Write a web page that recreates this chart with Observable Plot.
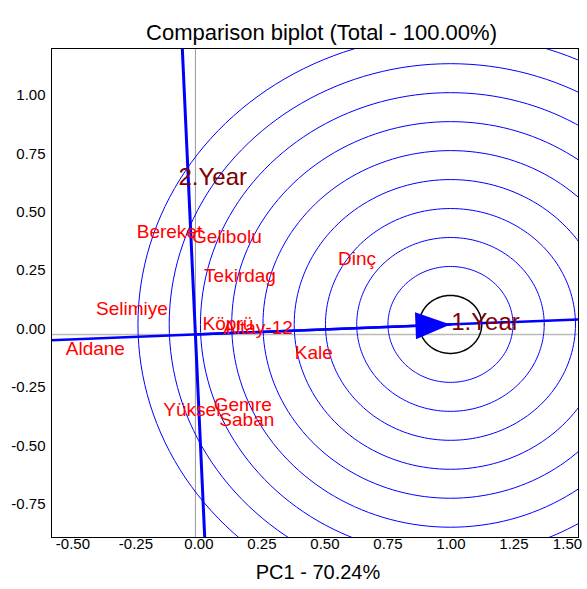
<!DOCTYPE html>
<html><head><meta charset="utf-8">
<script src="https://cdn.jsdelivr.net/npm/d3@7"></script>
<script src="https://cdn.jsdelivr.net/npm/@observablehq/plot@0.6"></script>
<style>body{margin:0;background:#fff}</style>
</head><body><div id="chart"></div>
<script>
// ---- data ----
const genotypes = ["Bereket","Gelibolu","Tekirdag","Dinç","Selimiye","Köprü","Altay-12","Aldane","Kale","Yüksel","Gemre","Saban"];
const pc1 = [-0.103, 0.125, 0.177, 0.641, -0.252, 0.129, 0.248, -0.397, 0.470, -0.014, 0.188, 0.204];
const pc2 = [0.441, 0.419, 0.252, 0.325, 0.111, 0.047, 0.030, -0.060, -0.081, -0.321, -0.300, -0.364];
const environments = ["1.Year", "2.Year"];
const envX = [1.015, -0.067];
const envY = [0.051, 0.672];
const idealPoint = [1.012, 0.043];
const ringRadii = [0.124, 0.248, 0.372, 0.496, 0.620, 0.744, 0.868, 0.992, 1.116, 1.240];
const xTicks = [-0.5, -0.25, 0, 0.25, 0.5, 0.75, 1.0, 1.25, 1.5];
const yTicks = [-0.75, -0.5, -0.25, 0, 0.25, 0.5, 0.75, 1.0];
const titleText = "Comparison biplot (Total - 100.00%)";
const xTitle = "PC1 - 70.24%";

// ---- derived geometry ----
const geno = genotypes.map((g, i) => ({name: g, x: pc1[i], y: pc2[i]}));
const envs = environments.map((e, i) => ({name: e, x: envX[i], y: envY[i]}));
const [cx, cy] = idealPoint;
const rings = [];
ringRadii.forEach((r, k) => {
  d3.range(0, 361, 2).forEach(a => {
    const t = a * Math.PI / 180;
    rings.push({ring: k, x: cx + r * Math.cos(t), y: cy + r * Math.sin(t)});
  });
});
const norm = Math.hypot(cx, cy);
const abscissa = [-0.7, 1.7].map(t => ({x: t * cx, y: t * cy}));
const pdx = -cy / norm, pdy = cx / norm;
const ordinate = [-1.2, 1.4].map(t => ({x: t * pdx, y: t * pdy}));
const arrowShaft = [{x: 0, y: 0}, {x: cx, y: cy}];
const triangle = {
  draw(ctx) {
    ctx.moveTo(0, 0);
    ctx.lineTo(-35, -13.5);
    ctx.lineTo(-35, 13.5);
    ctx.closePath();
  }
};

const font = "'Liberation Sans', Arial, sans-serif";
const tf = d => d.toFixed(2);

const chart = Plot.plot({
  width: 587,
  height: 589,
  marginLeft: 51,
  marginRight: 9,
  marginTop: 48,
  marginBottom: 52,
  style: {fontFamily: font, background: "#fff", color: "#000"},
  x: {domain: [-0.571, 1.520], label: null},
  y: {domain: [-0.869, 1.224], label: null},
  marks: [
    Plot.ruleX([0], {stroke: "#999", strokeWidth: 1}),
    Plot.ruleY([0], {stroke: "#bbb", strokeWidth: 1.5}),
    Plot.line(rings.filter(d => d.ring > 0), {x: "x", y: "y", z: "ring", stroke: "#0000ff", strokeWidth: 1, clip: true}),
    Plot.line(rings.filter(d => d.ring === 0), {x: "x", y: "y", stroke: "#000", strokeWidth: 1.5, clip: true}),
    Plot.line(abscissa, {x: "x", y: "y", stroke: "#0000ff", strokeWidth: 2.5, clip: true}),
    Plot.line(ordinate, {x: "x", y: "y", stroke: "#0000ff", strokeWidth: 3, clip: true}),
    Plot.line(arrowShaft, {x: "x", y: "y", stroke: "#0000ff", strokeWidth: 2.5}),
    Plot.dot([idealPoint], {x: d => d[0], y: d => d[1], symbol: triangle, fill: "#0000ff", stroke: "none", rotate: -2.2, r: 10}),
    Plot.text(geno, {x: "x", y: "y", text: "name", fill: "#ff0000", fontSize: 19}),
    Plot.text(envs, {x: "x", y: "y", text: "name", fill: "#800000", fontSize: 24, textAnchor: "start"}),
    Plot.frame({stroke: "#000", strokeWidth: 1}),
    Plot.axisY(yTicks, {tickSize: 0, tickPadding: 6, fontSize: 15, dy: -5.5, tickFormat: tf, label: null}),
    Plot.axisX(xTicks.filter(d => d < 1.5), {tickSize: 0, tickPadding: 1, fontSize: 15, dx: 3.5, tickFormat: tf, label: null}),
    Plot.axisX([1.5], {tickSize: 0, tickPadding: 1, fontSize: 15, dx: -6, tickFormat: tf, label: null}),
    Plot.text([titleText], {frameAnchor: "top", dx: 6.5, dy: -24, fontSize: 22, fill: "#000"}),
    Plot.text([xTitle], {frameAnchor: "bottom", dx: 3, dy: 41, fontSize: 20, fill: "#000"})
  ]
});
document.getElementById("chart").appendChild(chart);
</script>
</body></html>
